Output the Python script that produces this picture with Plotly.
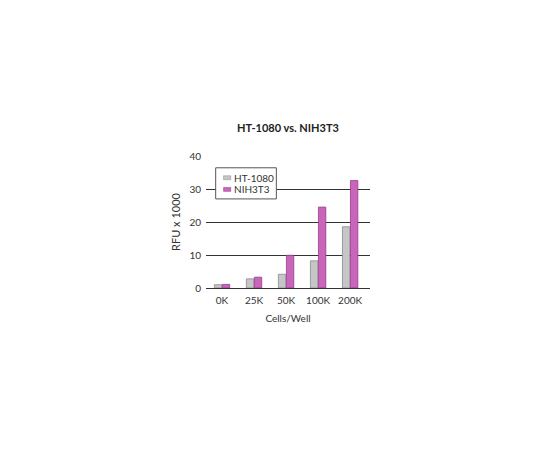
import plotly.graph_objects as go

categories = ["0K", "25K", "50K", "100K", "200K"]
ht1080 = [1.0, 2.8, 4.2, 8.3, 18.7]
nih3t3 = [1.1, 3.3, 10.0, 24.7, 32.8]
series_names = ["HT-1080", "NIH3T3"]
y_ticks = [0, 10, 20, 30, 40]

font_family = "Lato, 'Open Sans', sans-serif"
gray, gray_edge = "#c6c6c8", "#8a8a8e"
pink, pink_edge = "#c866ba", "#98398a"

fig = go.Figure()
fig.add_trace(go.Bar(
    x=categories, y=ht1080, name=series_names[0],
    marker=dict(color=gray, line=dict(color=gray_edge, width=0.8)),
))
fig.add_trace(go.Bar(
    x=categories, y=nih3t3, name=series_names[1],
    marker=dict(color=pink, line=dict(color=pink_edge, width=0.8)),
))

# custom compact legend (box + icons + labels)
shapes = [
    dict(type="rect", xref="paper", yref="y", x0=0.059, x1=0.429, y0=27.2, y1=36.7,
         fillcolor="white", line=dict(color="#555555", width=1), layer="above"),
]
annotations = []
legend_rows = [(33.66, series_names[0], gray, gray_edge), (30.1, series_names[1], pink, pink_edge)]
for yc, label, col, edge in legend_rows:
    shapes.append(dict(type="rect", xref="paper", yref="y", x0=0.107, x1=0.151,
                       y0=yc - 0.6, y1=yc + 0.6, fillcolor=col,
                       line=dict(color=edge, width=0.5), layer="above"))
    annotations.append(dict(text=label, xref="paper", yref="y", x=0.163, y=yc,
                            xanchor="left", yanchor="middle", showarrow=False,
                            borderpad=0, font=dict(size=10, color="#333333")))

fig.update_layout(
    width=540, height=450,
    margin=dict(l=198, r=178, t=148, b=170),
    paper_bgcolor="white", plot_bgcolor="white",
    barmode="group", bargap=0.5, bargroupgap=0.08,
    font=dict(family=font_family, color="#333333", size=10),
    title=dict(text="<b>HT-1080 vs. NIH3T3</b>", x=0.5, xref="paper",
               y=(450 - 120) / 450, yref="container", yanchor="middle",
               font=dict(size=11, color="#222222")),
    showlegend=False,
    shapes=shapes,
    annotations=annotations,
    xaxis=dict(title=dict(text="Cells/Well", standoff=9, font=dict(size=10)),
               range=[-0.5, 4.62],
               showline=False, ticks="", showgrid=False,
               ticklabelstandoff=5, tickfont=dict(size=10)),
    yaxis=dict(title=dict(text="RFU x 1000", standoff=6, font=dict(size=11)),
               range=[0, 40.3], tickvals=y_ticks, showgrid=True,
               gridcolor="#333333", gridwidth=1, zeroline=True,
               zerolinecolor="#333333", zerolinewidth=1,
               showline=False, ticks="", ticklabelstandoff=4,
               tickfont=dict(size=10)),
)

fig.write_html("out.html")
